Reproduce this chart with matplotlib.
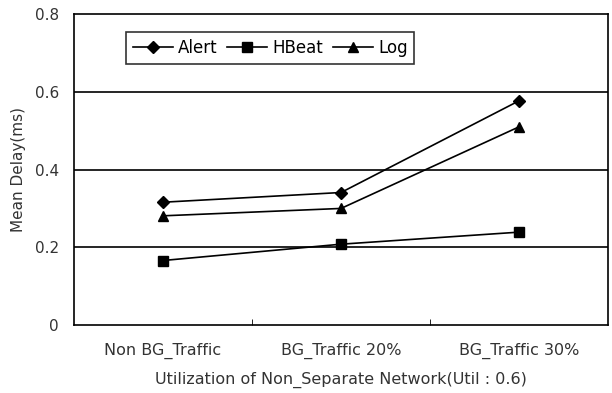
import numpy as np
import matplotlib.pyplot as plt

categories = ["Non BG_Traffic", "BG_Traffic 20%", "BG_Traffic 30%"]
alert = [0.316, 0.341, 0.577]
hbeat = [0.166, 0.208, 0.239]
log = [0.281, 0.300, 0.510]

plt.rcParams['font.family'] = ['DejaVu Sans']
fig = plt.figure(figsize=(6.12, 3.93), dpi=100)
ax = fig.add_axes([0.121, 0.173, 0.8725, 0.791])

x = np.arange(len(categories))
ax.plot(x, alert, color="k", lw=1.2, marker="D", ms=6, label="Alert")
ax.plot(x, hbeat, color="k", lw=1.2, marker="s", ms=7, label="HBeat")
ax.plot(x, log, color="k", lw=1.2, marker="^", ms=7, label="Log")

ax.set_xlim(-0.5, 2.5)
ax.set_ylim(0, 0.8)
ax.set_yticks([0, 0.2, 0.4, 0.6, 0.8])
ax.set_yticklabels(["0", "0.2", "0.4", "0.6", "0.8"], fontsize=11, color="#333333")
ax.tick_params(axis="y", length=0, pad=11)
ax.set_xticks(x)
ax.set_xticklabels(categories, fontsize=11.5, color="#333333")
ax.tick_params(axis="x", which="major", length=0, pad=13)
ax.set_xticks([0.5, 1.5], minor=True)
ax.tick_params(axis="x", which="minor", direction="in", length=4, color="k")

for yv in [0.2, 0.4, 0.6]:
    ax.axhline(yv, color="k", lw=1.2, zorder=0)
for s in ax.spines.values():
    s.set_color("k")
    s.set_linewidth(1.2)

ax.set_ylabel("Mean Delay(ms)", fontsize=11, color="#333333", labelpad=6)
ax.set_xlabel("Utilization of Non_Separate Network(Util : 0.6)", fontsize=11.5,
              color="#333333", labelpad=9)

leg = ax.legend(loc="upper left", bbox_to_anchor=(0.097, 0.942), ncol=3,
                fontsize=12, frameon=True, fancybox=False, handlelength=2.4,
                columnspacing=0.6, handletextpad=0.3, borderpad=0.4,
                borderaxespad=0)
leg.get_frame().set_edgecolor("k")
leg.get_frame().set_linewidth(1.2)

fig.savefig("out.png", dpi=100)
